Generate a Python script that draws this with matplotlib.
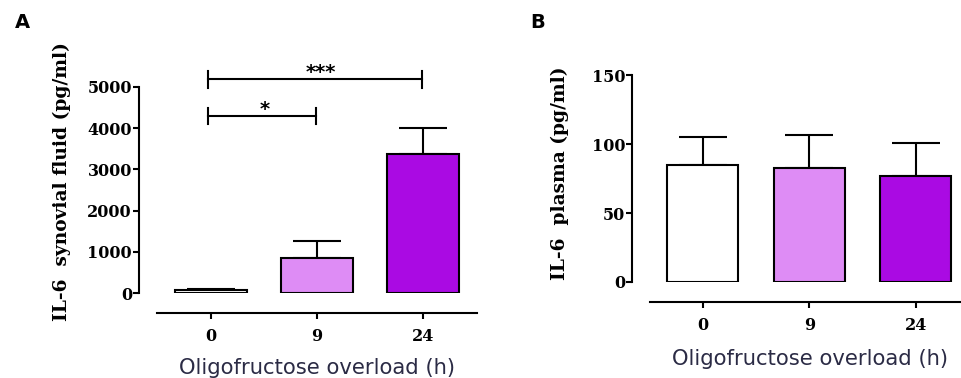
import matplotlib
matplotlib.use("Agg")
import matplotlib.pyplot as plt
import numpy as np

categories = ["0", "9", "24"]
synovial_mean = [75, 845, 3385]
synovial_sem = [10, 420, 630]
plasma_mean = [85.1, 82.7, 77.1]
plasma_sem = [20.1, 24.0, 23.6]
bar_colors = ["#FFFFFF", "#DE8CF5", "#AA0AE3"]
yticks_a = [0, 1000, 2000, 3000, 4000, 5000]
yticks_b = [0, 50, 100, 150]
sig_pairs = [(0, 1, 4296, "*"), (0, 2, 5187, "***")]

W, H = 961, 378
fig = plt.figure(figsize=(W / 100, H / 100), dpi=100)

serif = dict(family="DejaVu Serif", weight="bold")
xlab_color = "#2B2B45"
lw = 1.5


def style(ax, yticks, ylim_top, ylabel, ylabel_x, ylabel_y, xlabelpad):
    ax.set_ylim(0, ylim_top)
    ax.spines["top"].set_visible(False)
    ax.spines["right"].set_visible(False)
    ax.spines["left"].set_bounds(yticks[0], yticks[-1])
    ax.spines["left"].set_position(("outward", 13))
    ax.spines["bottom"].set_position(("outward", 14.4))
    for s in ("left", "bottom"):
        ax.spines[s].set_linewidth(lw)
    ax.set_yticks(yticks)
    ax.set_yticklabels([str(t) for t in yticks], fontsize=11.5, **serif)
    ax.set_xticks(range(len(categories)))
    ax.set_xticklabels(categories, fontsize=11.5, **serif)
    ax.tick_params(axis="both", width=lw, length=4)
    ax.tick_params(axis="y", pad=1)
    ax.tick_params(axis="x", pad=7)
    ax.set_xlabel("Oligofructose overload (h)", fontsize=15.2,
                  family="DejaVu Sans", color=xlab_color, labelpad=xlabelpad)
    ax.set_ylabel(ylabel, fontsize=13.4, **serif)
    ax.yaxis.set_label_coords(ylabel_x, ylabel_y)
    ax.patch.set_visible(False)


xpos = np.arange(len(categories))

# Panel A
axA = fig.add_axes([157 / W, (H - 293) / H, 320 / W, 222.5 / H])
axA.set_xlim(-0.51, 2.51)
axA.bar(xpos, synovial_mean, width=0.675, color=bar_colors, edgecolor="black",
        linewidth=lw, zorder=2)
axA.errorbar(xpos, synovial_mean, yerr=[np.zeros(3), synovial_sem], fmt="none",
             ecolor="black", elinewidth=lw, capsize=17, capthick=lw, zorder=1)
style(axA, yticks_a, 5400, "IL-6  synovial fluid (pg/ml)", -0.27,
      (293 - 182) / 222.5, 9.5)
for i, j, y, lab in sig_pairs:
    xa, xb = i - 0.03, j - 0.01
    axA.plot([xa, xb], [y, y], color="black", lw=lw, clip_on=False)
    for xx in (xa, xb):
        axA.plot([xx, xx], [y - 200, y + 200], color="black", lw=lw, clip_on=False)
    axA.text((xa + xb) / 2 + (0.06 if lab == "***" else 0.03), y + 35, lab,
             ha="center", va="baseline", fontsize=14, fontweight="bold",
             family="DejaVu Sans")

# Panel B
axB = fig.add_axes([650 / W, (H - 282) / H, 320 / W, 230 / H])
axB.set_xlim(-0.495, 2.51)
axB.bar(xpos, plasma_mean, width=0.67, color=bar_colors, edgecolor="black",
        linewidth=lw, zorder=2)
axB.errorbar(xpos, plasma_mean, yerr=[np.zeros(3), plasma_sem], fmt="none",
             ecolor="black", elinewidth=lw, capsize=17, capthick=lw, zorder=1)
style(axB, yticks_b, 150 * 230 / 206.7, "IL-6  plasma (pg/ml)", -0.253,
      (282 - 173.5) / 230, 10.5)

fig.text(22 / W, 1 - 23 / H, "A", fontsize=14, fontweight="bold",
         family="DejaVu Sans", ha="center", va="center")
fig.text(538 / W, 1 - 23 / H, "B", fontsize=14, fontweight="bold",
         family="DejaVu Sans", ha="center", va="center")

fig.savefig("out.png", dpi=100)
